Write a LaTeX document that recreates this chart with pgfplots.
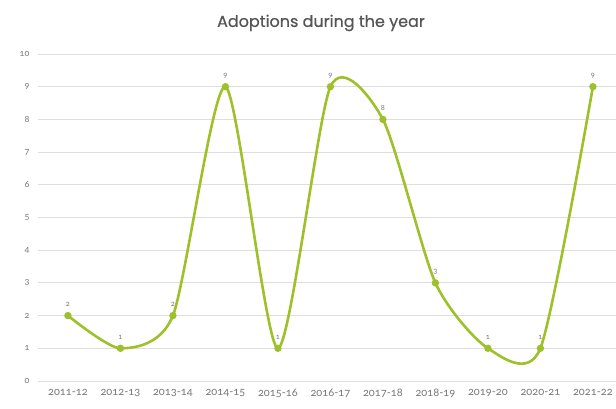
\documentclass[border=0pt]{standalone}
\usepackage{pgfplots}
\pgfplotsset{compat=1.18}
\usepackage{fontspec}
\setmainfont{Lato}
\newfontfamily\titlefont[FakeBold=0.6]{Poppins}
\newfontfamily\tickfont[Numbers=OldStyle]{Lato}
\definecolor{lime}{RGB}{158,192,42}
\definecolor{tickgray}{RGB}{120,120,120}
\definecolor{gridgray}{RGB}{222,222,222}
\begin{document}
\begin{tikzpicture}[x=1pt,y=1pt]
\begin{axis}[
  at={(38pt,28pt)}, anchor=south west,
  scale only axis, width=578pt, height=327pt,
  xmin=-0.57, xmax=10.44, ymin=0, ymax=10,
  axis line style={draw=none},
  ytick={0,1,...,10},
  xtick={0,1,...,10},
  xticklabels={2011-12,2012-13,2013-14,2014-15,2015-16,2016-17,2017-18,2018-19,2019-20,2020-21,2021-22},
  tick style={draw=none},
  ymajorgrids, grid style={gridgray, line width=0.8pt},
  ticklabel style={text=tickgray},
  yticklabel style={font=\tickfont\fontsize{9}{10}\selectfont, xshift=-5pt},
  xticklabel style={font=\tickfont\fontsize{11}{12}\selectfont, yshift=-5pt},
  /pgf/number format/assume math mode=true,
  clip=false,
]
\addplot[lime, line width=2.6pt, smooth, tension=0.42, mark=*, mark size=2.3pt,
  nodes near coords, nodes near coords style={font=\tickfont\fontsize{7.5}{8}\selectfont, text=tickgray, yshift=4pt}]
  coordinates {(0,2) (1,1) (2,2) (3,9) (4,1) (5,9) (6,8) (7,3) (8,1) (9,1) (10,9)};
\end{axis}
\node[font=\titlefont\fontsize{16}{18}\selectfont, text={rgb,255:red,85;green,85;blue,85}] at (321pt,386pt) {Adoptions during the year};
\pgfresetboundingbox
\useasboundingbox (0,0) rectangle (616pt,409pt);
\end{tikzpicture}
\end{document}
